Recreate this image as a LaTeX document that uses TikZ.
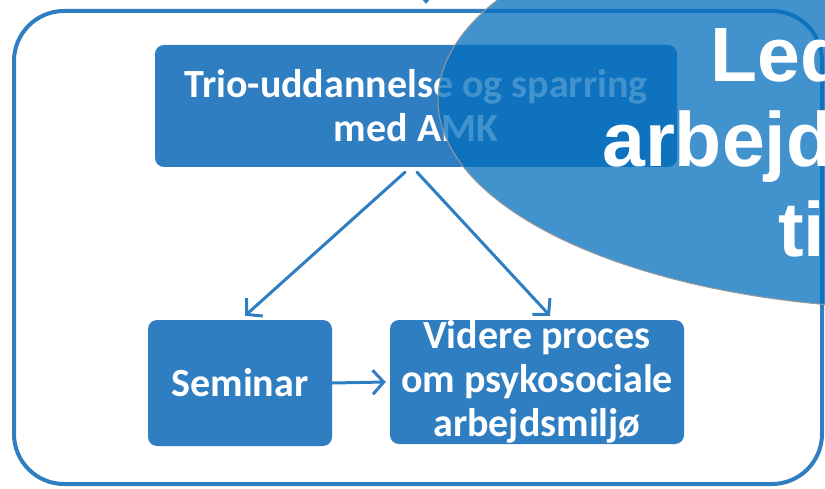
\documentclass[tikz,border=0pt]{standalone}
\usepackage{fontspec}
\newfontfamily\boxfont{Carlito}
\newfontfamily\leadfont{Liberation Sans}
\usetikzlibrary{arrows.meta}
\definecolor{boxblue}{RGB}{47,126,193}
\definecolor{lensblue}{RGB}{3,110,190}

\begin{document}
\begin{tikzpicture}[x=1pt,y=-1pt,line cap=round,line join=round,
  box/.style={fill=boxblue,rounded corners=9pt,text=white,align=center,inner sep=0pt,
    font=\boxfont\bfseries\fontsize{40}{44}\selectfont},
  conn/.style={draw=boxblue,line width=3pt,-{Straight Barb[length=11pt,width=24pt]}},
  lead/.style={text=white,inner sep=0pt,anchor=base west,
    font=\leadfont\bfseries\fontsize{77}{87}\selectfont}]
\useasboundingbox (0,0) rectangle (825,489);
\clip (0,0) rectangle (825,489);
\node[draw=boxblue,line width=4pt,rounded corners=50pt,minimum width=808pt,minimum height=473pt] (frame) at (418,247.5) {};
\node[box,minimum width=522pt,minimum height=122pt] (trio) at (416,106) {Trio-uddannelse og sparring\\med AMK};
\node[box,minimum width=184pt,minimum height=126pt] (sem) at (240,383) {Seminar};
\node[box,minimum width=294pt,minimum height=124pt] (vid) at (537,382) {Videre proces\\om psykosociale\\arbejdsmiljø};
\coordinate (in) at (426,-30);
\draw[draw=boxblue,line width=3pt,-{Triangle[length=7pt,width=11pt]}] (in) -- ([xshift=8pt,yshift=5pt]frame.north);
\draw[conn] ([xshift=-11pt,yshift=-5pt]trio.south) -- ([xshift=5pt,yshift=4pt]sem.north);
\draw[conn] ([xshift=1pt,yshift=-5pt]trio.south) -- ([xshift=13pt,yshift=4pt]vid.north);
\draw[conn] (sem.east) -- ([xshift=-4pt]vid.west);
%\draw (trio.north) -- (trio.south);
\draw[fill=lensblue,fill opacity=0.75,draw=gray!80,line width=1pt] (925,100) ellipse [x radius=487pt,y radius=209pt];
\node[lead] (led) at (710,82) {Led};
\node[lead] (arb) at (602,167) {arbejd};
\node[lead] (ti) at (778,257) {ti};
\end{tikzpicture}
\end{document}
